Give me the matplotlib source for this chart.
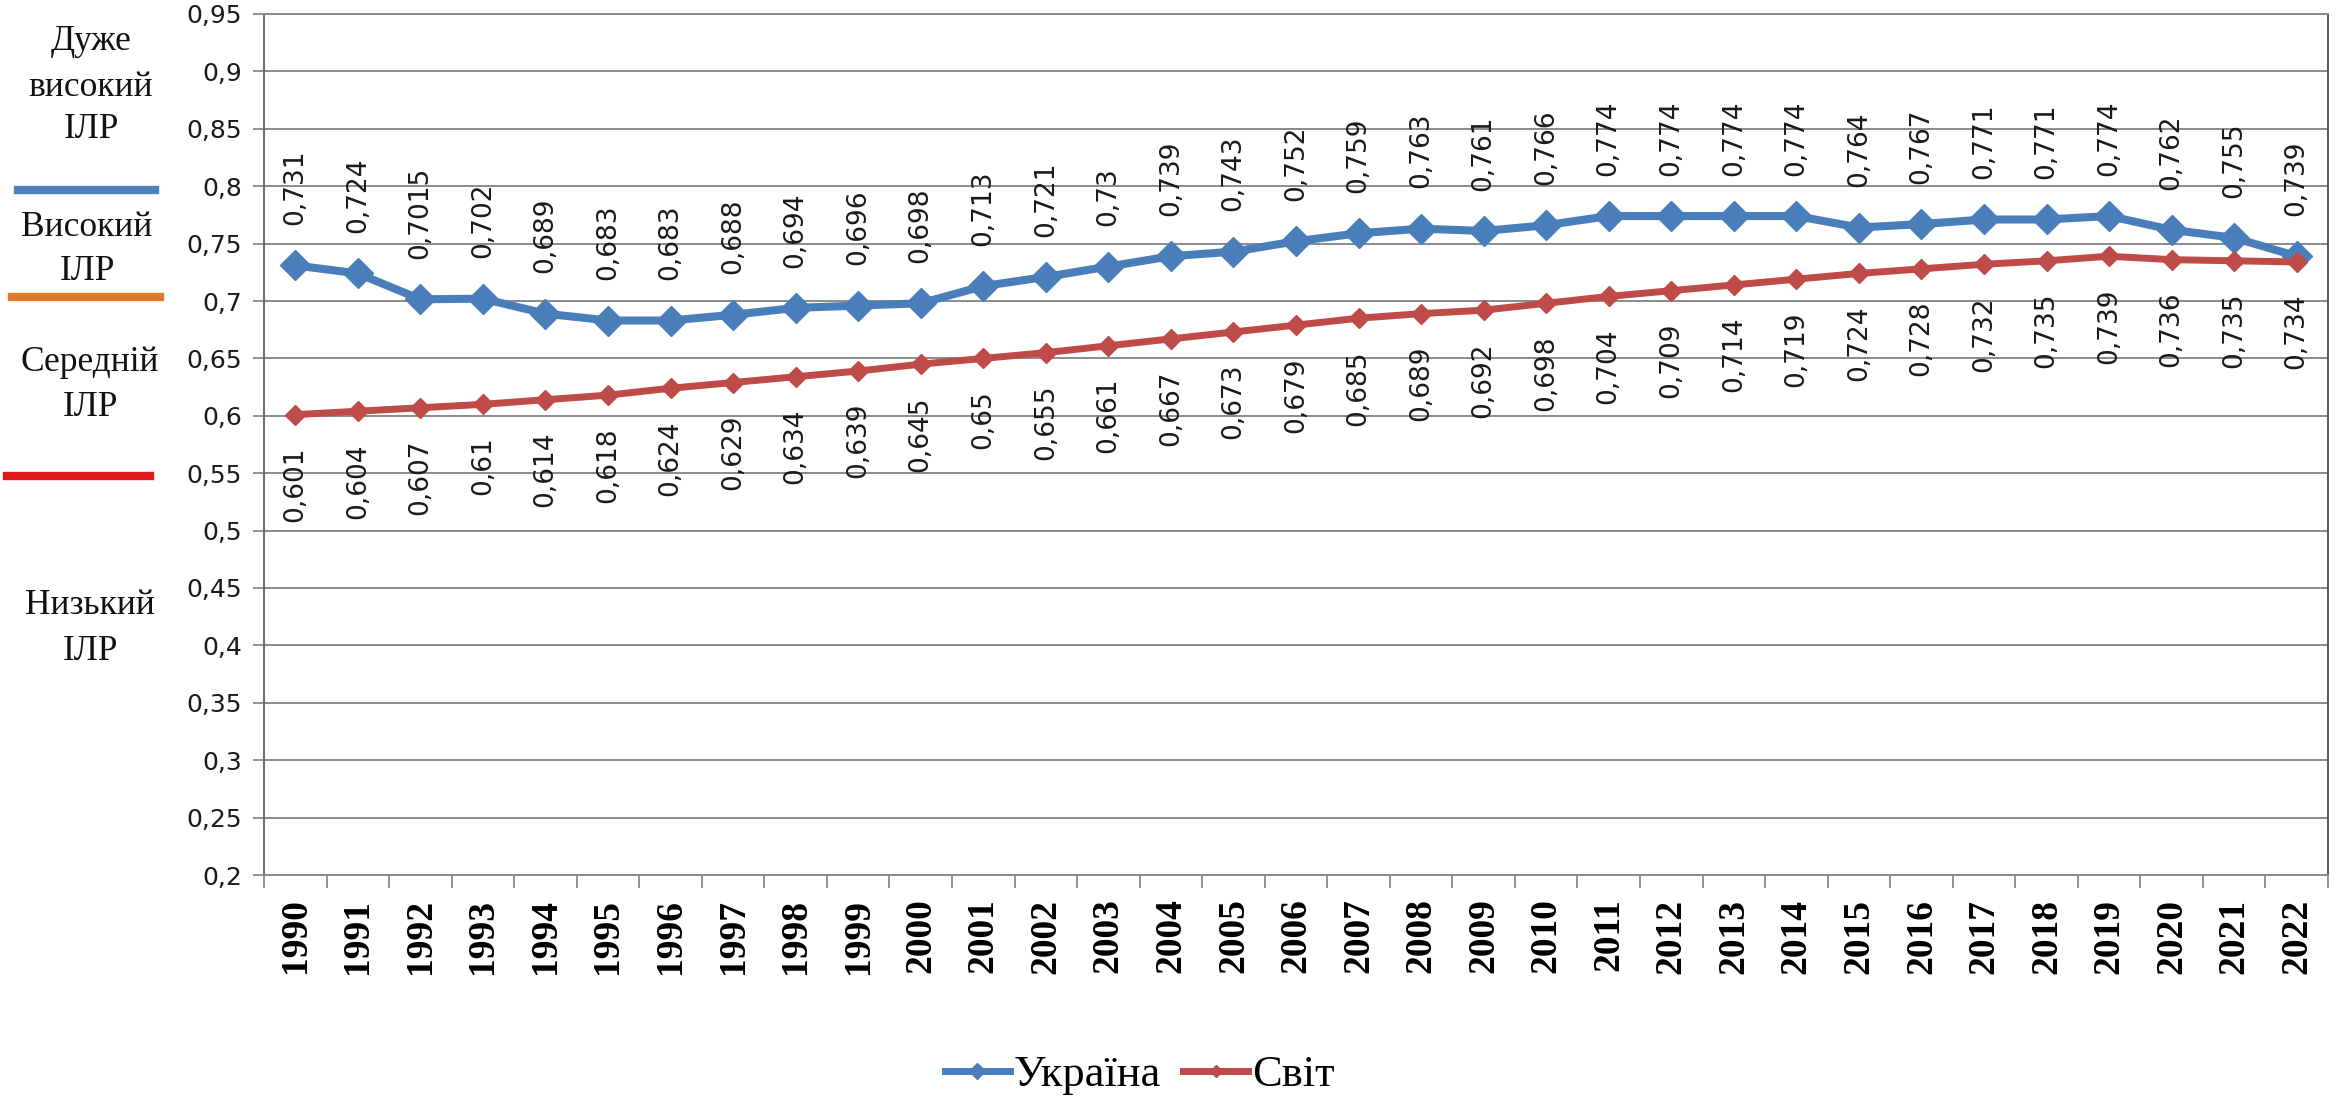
import matplotlib
matplotlib.use("Agg")
import matplotlib.pyplot as plt
from matplotlib.lines import Line2D
import numpy as np

# Human Development Index: Ukraine vs. world average
years = [str(y) for y in range(1990, 2023)]
ukraine = [0.731, 0.724, 0.7015, 0.702, 0.689, 0.683, 0.683, 0.688, 0.694, 0.696,
           0.698, 0.713, 0.721, 0.73, 0.739, 0.743, 0.752, 0.759, 0.763, 0.761,
           0.766, 0.774, 0.774, 0.774, 0.774, 0.764, 0.767, 0.771, 0.771, 0.774,
           0.762, 0.755, 0.739]
world = [0.601, 0.604, 0.607, 0.61, 0.614, 0.618, 0.624, 0.629, 0.634, 0.639,
         0.645, 0.65, 0.655, 0.661, 0.667, 0.673, 0.679, 0.685, 0.689, 0.692,
         0.698, 0.704, 0.709, 0.714, 0.719, 0.724, 0.728, 0.732, 0.735, 0.739,
         0.736, 0.735, 0.734]
series_names = ["Україна", "Світ"]
y_ticks = [0.2, 0.25, 0.3, 0.35, 0.4, 0.45, 0.5, 0.55, 0.6, 0.65, 0.7, 0.75,
           0.8, 0.85, 0.9, 0.95]
level_labels = ["Дуже\nвисокий\nІЛР", "Високий\nІЛР", "Середній\nІЛР", "Низький\nІЛР"]

W, H = 2336, 1098
fig = plt.figure(figsize=(W / 100, H / 100), dpi=100)
fig.patch.set_facecolor("white")

def fx(px):
    return px / W

def fy(py):
    return 1 - py / H

ax = fig.add_axes([fx(264), fy(875), fx(2328) - fx(264), fy(14) - fy(875)])

blue = "#4a7ebb"
red = "#be4b48"
grid_c = "#8a8a8a"

x = np.arange(len(years))
ax.plot(x, ukraine, color=blue, lw=5.8, marker="D", ms=15, mec=blue, mfc=blue,
        zorder=3, label=series_names[0])
ax.plot(x, world, color=red, lw=5.0, marker="D", ms=10, mec=red, mfc=red,
        zorder=3, label=series_names[1])

def fmt(v):
    return repr(v).replace(".", ",")

for xi, v in zip(x, ukraine):
    ax.annotate(fmt(v), (xi, v), xytext=(0, 29), textcoords="offset points",
                rotation=90, ha="center", va="bottom", fontsize=19,
                family="DejaVu Sans", color="#1a1a1a")
for xi, v in zip(x, world):
    ax.annotate(fmt(v), (xi, v), xytext=(0, -23), textcoords="offset points",
                rotation=90, ha="center", va="top", fontsize=19,
                family="DejaVu Sans", color="#1a1a1a")

ax.set_xlim(-0.5, len(years) - 0.5)
ax.set_ylim(0.2, 0.95)

ax.set_yticks(y_ticks)
ax.set_yticklabels([fmt(t) for t in y_ticks], fontsize=18, family="DejaVu Sans",
                   color="#1a1a1a")
ax.tick_params(axis="y", direction="out", length=8, width=1.3, color=grid_c, pad=8)
ax.yaxis.grid(True, color=grid_c, lw=1.4)
ax.set_axisbelow(True)

ax.set_xticks(x)
ax.set_xticklabels(years, rotation=90, fontsize=27, family="Liberation Serif",
                   fontweight="bold", color="black")
ax.set_xticks(np.arange(-0.5, len(years), 1), minor=True)
ax.tick_params(axis="x", which="major", length=0, pad=17)
ax.tick_params(axis="x", which="minor", direction="out", length=9, width=1.3,
               color=grid_c)

for side in ["left", "bottom", "top", "right"]:
    ax.spines[side].set_color(grid_c)
    ax.spines[side].set_linewidth(1.4)
ax.spines["left"].set_color("#6a6a6a")
ax.spines["right"].set_color("#555555")

# Level bands on the left margin: one text per line, centred on each row
serif = "Liberation Serif"
band_rows = [(91, [42, 87, 130]), (87, [228, 272]), (90, [362, 407]), (90, [606, 652])]
for label, (cx, rows) in zip(level_labels, band_rows):
    for line, ry in zip(label.split("\n"), rows):
        fig.text(fx(cx), fy(ry), line, ha="center", va="center", fontsize=25.5,
                 family=serif, color="#111111")

for (x0, x1, yy, c) in [(18, 155, 190, "#4f81bd"), (12, 160, 297, "#e0782c"),
                        (7, 150, 476, "#e31a1c")]:
    fig.add_artist(Line2D([fx(x0), fx(x1)], [fy(yy), fy(yy)], color=c, lw=6,
                          transform=fig.transFigure))

leg_handles = [Line2D([], [], color=blue, lw=5, marker="D", ms=8),
               Line2D([], [], color=red, lw=5, marker="D", ms=6)]
fig.legend(handles=leg_handles, labels=series_names, loc="center",
           bbox_to_anchor=(fx(1140), fy(1075)), ncol=2, frameon=False,
           prop={"family": serif, "size": 32}, handlelength=1.45,
           handletextpad=0.1, columnspacing=0.5)

fig.savefig("out.png", dpi=100, facecolor="white")
